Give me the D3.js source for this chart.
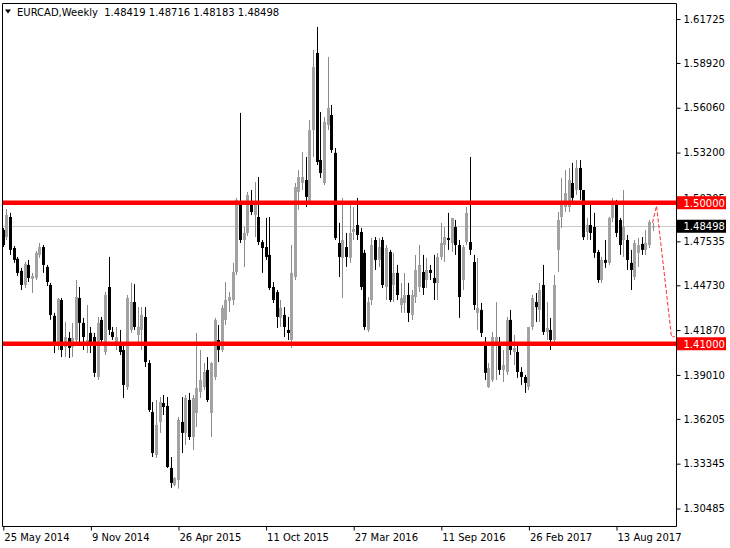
<!DOCTYPE html>
<html>
<head>
<meta charset="utf-8">
<script src="https://cdn.jsdelivr.net/npm/d3@7"></script>
<style>
html,body{margin:0;padding:0;background:#fff;}
svg{display:block;}
text{font-family:"DejaVu Sans",Verdana,sans-serif;font-size:10px;}
</style>
</head>
<body>
<svg id="chart" width="730" height="548"></svg>
<script>
// ---- data ----
const symbolTitle = "EURCAD,Weekly";
const lastQuote = [1.48419, 1.48716, 1.48183, 1.48498]; // O H L C of last bar
// weekly bars: [open, high, low, close]
const weeklyOHLC = [
[1.4826,1.4839,1.4717,1.4730],[1.4781,1.4960,1.4762,1.4922],[1.4909,1.4935,1.4667,1.4699],[1.4711,1.4724,1.4616,1.4635],
[1.4642,1.4654,1.4533,1.4552],[1.4565,1.4584,1.4443,1.4475],[1.4475,1.4622,1.4456,1.4609],[1.4603,1.4635,1.4494,1.4520],
[1.4514,1.4552,1.4424,1.4533],[1.4520,1.4693,1.4507,1.4680],[1.4667,1.4743,1.4648,1.4717],[1.4717,1.4730,1.4552,1.4603],
[1.4590,1.4603,1.4469,1.4494],[1.4475,1.4488,1.4252,1.4284],[1.4278,1.4297,1.4041,1.4105],[1.4105,1.4392,1.4060,1.4386],
[1.4379,1.4392,1.4015,1.4060],[1.4079,1.4239,1.4015,1.4143],[1.4137,1.4175,1.4009,1.4073],[1.4079,1.4233,1.4015,1.4137],
[1.4124,1.4507,1.4092,1.4398],[1.4392,1.4462,1.4105,1.4233],[1.4233,1.4265,1.4060,1.4143],[1.4105,1.4347,1.4041,1.4124],
[1.4169,1.4207,1.4041,1.4105],[1.4143,1.4169,1.3888,1.3914],[1.3888,1.4271,1.3869,1.4233],[1.4252,1.4271,1.4105,1.4124],
[1.4047,1.4430,1.4028,1.4411],[1.4462,1.4654,1.4156,1.4188],[1.4175,1.4207,1.4124,1.4143],[1.4105,1.4207,1.4060,1.4143],
[1.4105,1.4188,1.4028,1.4047],[1.4060,1.4092,1.3754,1.3837],[1.3824,1.4411,1.3805,1.4392],[1.4188,1.4488,1.4169,1.4366],
[1.4366,1.4481,1.4188,1.4207],[1.4156,1.4334,1.4092,1.4207],[1.4188,1.4334,1.4060,1.4284],[1.4271,1.4334,1.3951,1.3983],
[1.3977,1.3996,1.3664,1.3677],[1.3664,1.3728,1.3377,1.3403],[1.3390,1.3741,1.3371,1.3582],[1.3601,1.3760,1.3531,1.3728],
[1.3722,1.3773,1.3645,1.3696],[1.3703,1.3760,1.3307,1.3313],[1.3307,1.3377,1.3180,1.3212],[1.3199,1.3249,1.3190,1.3243],
[1.3231,1.3632,1.3175,1.3614],[1.3601,1.3760,1.3403,1.3531],[1.3531,1.3773,1.3454,1.3754],[1.3741,1.3786,1.3486,1.3505],
[1.3505,1.3773,1.3422,1.3754],[1.3658,1.4169,1.3569,1.3818],[1.3792,1.4060,1.3754,1.3869],[1.3824,1.3977,1.3805,1.3920],
[1.3933,1.4015,1.3728,1.3741],[1.3658,1.3983,1.3505,1.3977],[1.3888,1.4265,1.3869,1.4252],[1.4124,1.4220,1.3983,1.4060],
[1.4060,1.4347,1.4047,1.4329],[1.4252,1.4494,1.4220,1.4379],[1.4373,1.4430,1.4303,1.4398],[1.4379,1.4616,1.4347,1.4558],
[1.4558,1.5031,1.4539,1.5018],[1.4999,1.5573,1.4743,1.4762],[1.4762,1.4845,1.4590,1.4807],[1.4807,1.5069,1.4788,1.5049],
[1.4986,1.5081,1.4922,1.4941],[1.4922,1.5132,1.4781,1.5005],[1.4909,1.5164,1.4730,1.4749],[1.4749,1.4762,1.4552,1.4711],
[1.4717,1.4903,1.4635,1.4654],[1.4667,1.4909,1.4443,1.4456],[1.4462,1.4494,1.4360,1.4379],[1.4430,1.4443,1.4201,1.4271],
[1.4265,1.4379,1.4207,1.4329],[1.4284,1.4334,1.4143,1.4207],[1.4188,1.4271,1.4124,1.4169],[1.4124,1.4730,1.4073,1.4552],
[1.4526,1.5126,1.4507,1.5100],[1.5069,1.5209,1.4954,1.5164],[1.5126,1.5324,1.5081,1.5164],[1.5145,1.5292,1.4973,1.5037],
[1.5005,1.5528,1.4986,1.5464],[1.5464,1.5975,1.5292,1.5866],[1.5956,1.6122,1.5241,1.5260],[1.5273,1.5579,1.5158,1.5190],
[1.5126,1.5547,1.5113,1.5515],[1.5496,1.5930,1.5464,1.5605],[1.5560,1.5624,1.5318,1.5337],[1.5318,1.5349,1.4762,1.4775],
[1.4743,1.4871,1.4526,1.4654],[1.4648,1.5031,1.4392,1.4762],[1.4717,1.4807,1.4590,1.4654],[1.4648,1.4986,1.4616,1.4807],
[1.4813,1.4973,1.4762,1.4833],[1.4858,1.5031,1.4762,1.4794],[1.4813,1.4839,1.4443,1.4462],[1.4680,1.4699,1.4188,1.4207],
[1.4188,1.4398,1.4175,1.4366],[1.4379,1.4775,1.4347,1.4730],[1.4762,1.4781,1.4571,1.4635],[1.4635,1.4775,1.4590,1.4717],
[1.4762,1.4781,1.4456,1.4475],[1.4462,1.4730,1.4379,1.4711],[1.4686,1.4699,1.4366,1.4379],[1.4475,1.4680,1.4366,1.4552],
[1.4552,1.4603,1.4379,1.4411],[1.4347,1.4488,1.4297,1.4392],[1.4360,1.4552,1.4297,1.4411],[1.4411,1.4488,1.4239,1.4297],
[1.4284,1.4443,1.4252,1.4411],[1.4398,1.4667,1.4360,1.4571],[1.4462,1.4730,1.4430,1.4603],[1.4558,1.4667,1.4411,1.4456],
[1.4507,1.4648,1.4456,1.4571],[1.4571,1.4603,1.4507,1.4552],[1.4520,1.4667,1.4379,1.4488],[1.4488,1.4680,1.4379,1.4654],
[1.4654,1.4871,1.4635,1.4743],[1.4730,1.4845,1.4622,1.4781],[1.4775,1.4935,1.4699,1.4762],[1.4743,1.4903,1.4686,1.4903],
[1.4845,1.4890,1.4667,1.4730],[1.4730,1.4762,1.4265,1.4398],[1.4507,1.4730,1.4443,1.4717],[1.4749,1.4973,1.4730,1.4935],
[1.4749,1.5292,1.4667,1.4699],[1.4622,1.4667,1.4316,1.4347],[1.4297,1.4648,1.4188,1.4329],[1.4316,1.4360,1.4143,1.4169],
[1.4105,1.4143,1.3869,1.3914],[1.3824,1.3977,1.3818,1.3945],[1.3869,1.4175,1.3856,1.4143],[1.4111,1.4366,1.3869,1.4143],
[1.4105,1.4143,1.3901,1.3933],[1.3933,1.4060,1.3856,1.3964],[1.3920,1.4271,1.3901,1.4252],[1.4252,1.4316,1.4028,1.4060],
[1.4047,1.4156,1.3964,1.4073],[1.4047,1.4092,1.3882,1.3920],[1.3920,1.3951,1.3837,1.3888],[1.3888,1.3901,1.3786,1.3850],
[1.3824,1.4207,1.3805,1.4207],[1.4207,1.4411,1.4188,1.4392],[1.4366,1.4424,1.4239,1.4334],[1.4316,1.4488,1.4239,1.4443],
[1.4475,1.4603,1.4156,1.4175],[1.4175,1.4366,1.4124,1.4201],[1.4188,1.4265,1.4060,1.4124],[1.4124,1.4539,1.4111,1.4475],
[1.4699,1.4941,1.4558,1.4890],[1.4909,1.5158,1.4839,1.4986],[1.4973,1.5209,1.4941,1.5062],[1.4973,1.5222,1.4941,1.5145],
[1.5126,1.5254,1.5005,1.5031],[1.5081,1.5273,1.5049,1.5222],[1.5222,1.5273,1.5018,1.5081],[1.5081,1.5081,1.4762,1.4781],
[1.4813,1.4903,1.4762,1.4858],[1.4858,1.4986,1.4762,1.4807],[1.4845,1.4935,1.4648,1.4680],[1.4686,1.4699,1.4488,1.4507],
[1.4507,1.4654,1.4488,1.4635],[1.4635,1.4762,1.4584,1.4616],[1.4616,1.4909,1.4603,1.4903],[1.4903,1.5031,1.4877,1.4999],
[1.4986,1.5018,1.4781,1.4807],[1.4890,1.4903,1.4667,1.4730],[1.4762,1.5081,1.4654,1.4845],[1.4762,1.4794,1.4571,1.4635],
[1.4616,1.4699,1.4443,1.4571],[1.4526,1.4762,1.4507,1.4743],[1.4680,1.4775,1.4590,1.4730],[1.4737,1.4781,1.4667,1.4699],
[1.4699,1.4826,1.4667,1.4743],[1.4730,1.4890,1.4711,1.4877],
[1.48419,1.48716,1.48183,1.48498]
];
const xTickIndex = [0, 24, 48, 72, 96, 120, 144, 168];
const xTickLabels = ["25 May 2014","9 Nov 2014","26 Apr 2015","11 Oct 2015","27 Mar 2016","11 Sep 2016","26 Feb 2017","13 Aug 2017"];
const yTickValues = [1.61725,1.58920,1.56060,1.53200,1.50305,1.47535,1.44730,1.41870,1.39010,1.36205,1.33345,1.30485];
const levelLines = [1.50000, 1.41000];
// projected path drawn by hand: [bar index, price]
const projection = [[178, 1.4872], [179.1, 1.4980], [183.2, 1.4145], [184.1, 1.4145]];

// ---- layout ----
const svg = d3.select("#chart");
const frame = {left: 2.5, top: 3.5, right: 676.5, bottom: 526.5};
const x = d3.scaleLinear().domain([0, 178]).range([2.8, 652.5]);
const y = d3.scaleLinear().domain([1.30485, 1.61725]).range([508.5, 19]);

svg.append("rect").attr("width", 730).attr("height", 548).attr("fill", "#fff");

svg.append("defs").append("clipPath").attr("id", "plotclip")
  .append("rect").attr("x", frame.left + 0.5).attr("y", frame.top + 0.5)
  .attr("width", frame.right - frame.left - 1).attr("height", frame.bottom - frame.top - 1);

const plot = svg.append("g").attr("clip-path", "url(#plotclip)");

// current price line
plot.append("line")
  .attr("x1", frame.left).attr("x2", frame.right)
  .attr("y1", Math.round(y(lastQuote[3])) + 0.5).attr("y2", Math.round(y(lastQuote[3])) + 0.5)
  .attr("stroke", "#c8c8c8").attr("stroke-width", 1);

// candles
const bars = plot.append("g").selectAll("g").data(weeklyOHLC).join("g");
bars.each(function(d, i) {
  const g = d3.select(this);
  const [o, h, l, c] = d;
  const bull = c >= o;
  const cx = Math.round(x(i));
  const col = bull ? "#8a8a8a" : "#000";
  g.append("line")
    .attr("x1", cx + 0.5).attr("x2", cx + 0.5)
    .attr("y1", y(h)).attr("y2", y(l))
    .attr("stroke", col).attr("stroke-width", 1);
  const top = y(Math.max(o, c)), bot = y(Math.min(o, c));
  g.append("rect")
    .attr("x", cx - 1).attr("width", 3)
    .attr("y", top).attr("height", Math.max(1.2, bot - top))
    .attr("fill", bull ? "#a2a2a2" : "#000");
});

// level lines
plot.selectAll("line.level").data(levelLines).join("line").attr("class", "level")
  .attr("x1", frame.left).attr("x2", frame.right + 2)
  .attr("y1", d => y(d)).attr("y2", d => y(d))
  .attr("stroke", "#ff0000").attr("stroke-width", 4.5);

// projection dashed line
svg.append("path")
  .datum(projection)
  .attr("d", d3.line().x(d => x(d[0])).y(d => y(d[1])))
  .attr("fill", "none").attr("stroke", "#ff3030").attr("stroke-width", 1)
  .attr("stroke-dasharray", "4,2");

// frame
svg.append("path")
  .attr("d", `M${frame.left},${frame.top}H${frame.right}V${frame.bottom}H${frame.left}Z`)
  .attr("fill", "none").attr("stroke", "#000").attr("stroke-width", 1);

// y axis
const yAxis = d3.axisRight(y).tickValues(yTickValues).tickFormat(d3.format(".5f")).tickSize(4).tickPadding(3);
const yg = svg.append("g").attr("transform", `translate(${frame.right},0)`).call(yAxis);
yg.select(".domain").remove();
yg.selectAll("text").attr("fill", "#000").style("font-family", '"DejaVu Sans",Verdana,sans-serif').style("font-size", "10px");
yg.selectAll("line").attr("stroke", "#000");

// x axis
const xAxis = d3.axisBottom(x).tickValues(xTickIndex).tickFormat((d, i) => xTickLabels[i]).tickSize(4).tickPadding(3);
const xg = svg.append("g").attr("transform", `translate(0,${frame.bottom})`).call(xAxis);
xg.select(".domain").remove();
xg.selectAll(".tick line").attr("stroke", "#000").attr("transform", "translate(0.5,0)");
xg.selectAll("text").attr("fill", "#000").attr("text-anchor", "start").attr("dx", 1)
  .style("font-family", '"DejaVu Sans",Verdana,sans-serif').style("font-size", "10px");

// price tags on the axis
function tag(value, bg) {
  const yy = y(value);
  const g = svg.append("g");
  g.append("rect").attr("x", frame.right + 0.5).attr("y", yy - 6.5).attr("width", 49).attr("height", 13).attr("fill", bg);
  g.append("text").attr("x", frame.right + 7).attr("y", yy + 4).attr("fill", "#fff").text(value.toFixed(5));
}
levelLines.forEach(v => tag(v, "#ff0000"));
tag(lastQuote[3], "#000");

// title
svg.append("path").attr("d", "M5,9.5 L11,9.5 L8,13.5 Z").attr("fill", "#000");
svg.append("text").attr("x", 17).attr("y", 16).attr("fill", "#000").style("white-space", "pre")
  .text(symbolTitle + "  " + lastQuote.map(v => v.toFixed(5)).join(" "));
</script>
</body>
</html>
